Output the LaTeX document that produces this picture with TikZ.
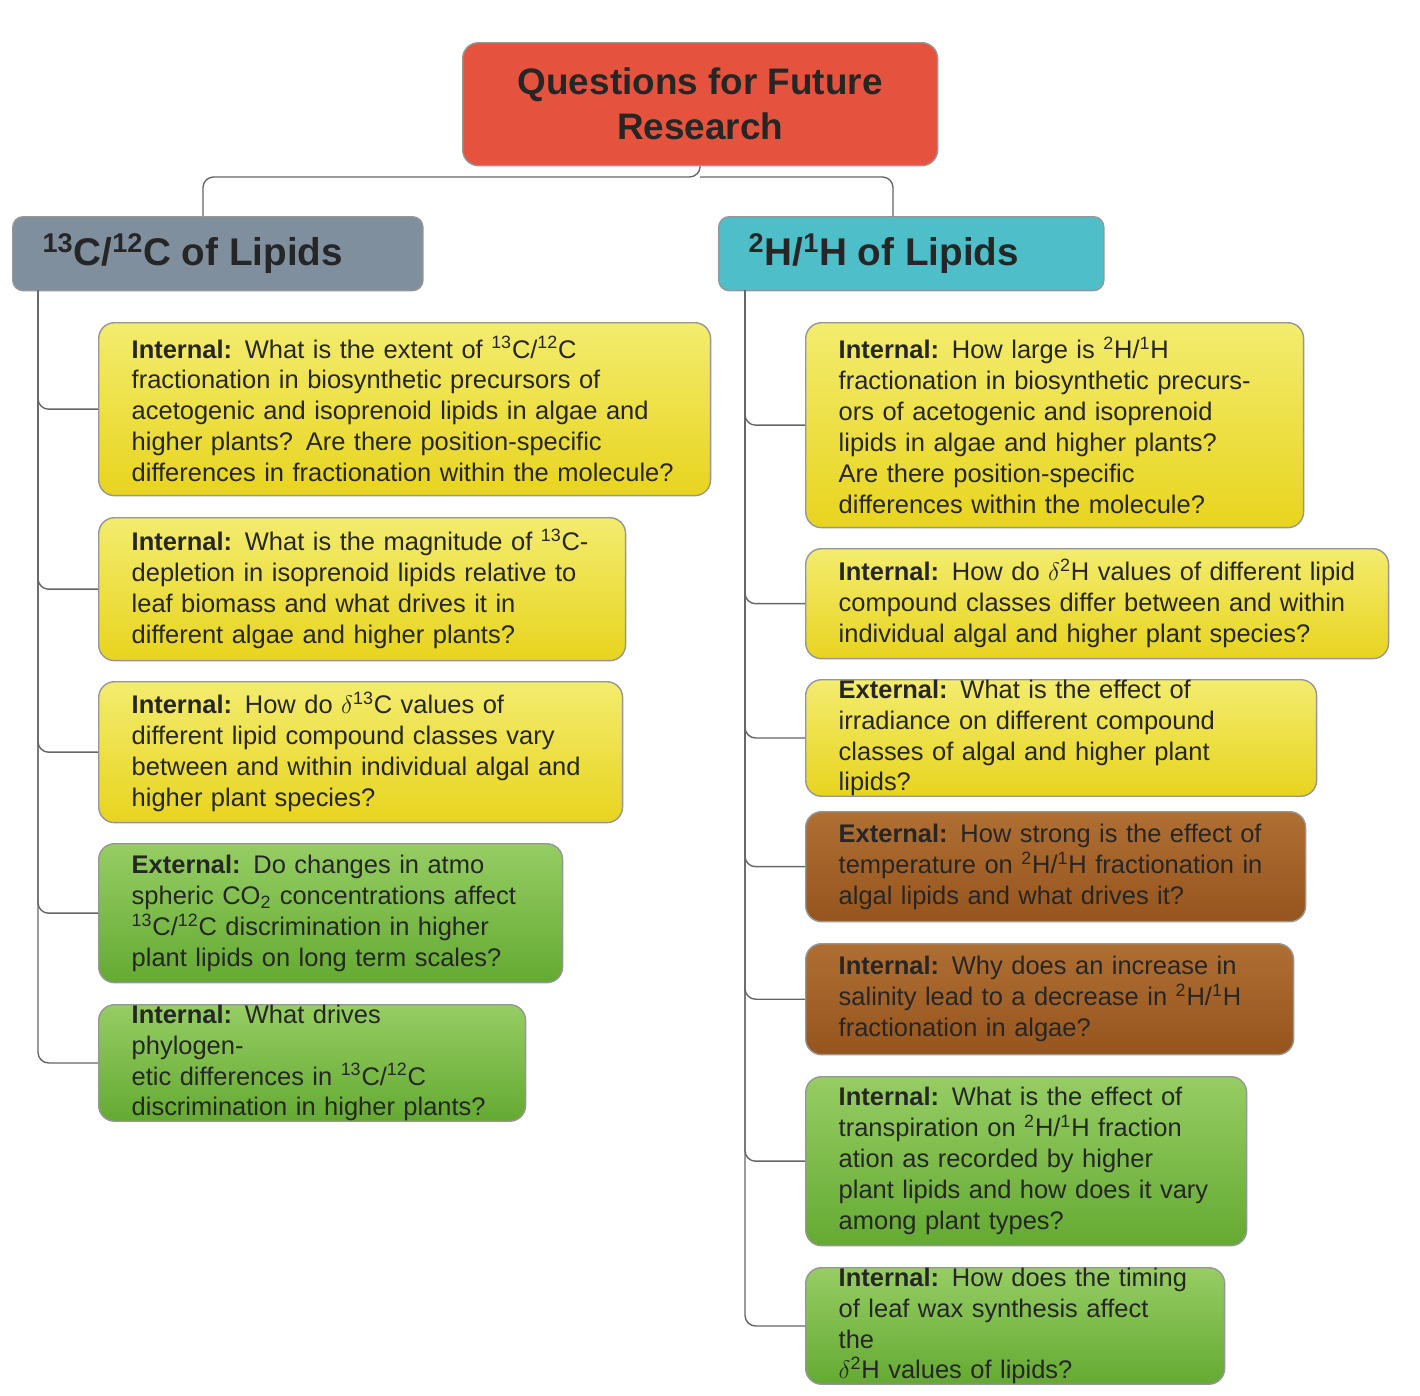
\documentclass[tikz,border=0pt]{standalone}
\usepackage{fontspec}
\setmainfont{Liberation Sans}
\usetikzlibrary{positioning}
\definecolor{TitleRed}{RGB}{229,83,62}
\definecolor{HeadGray}{RGB}{128,143,158}
\definecolor{HeadTeal}{RGB}{78,190,200}
\definecolor{YelTop}{RGB}{243,236,110}
\definecolor{YelBot}{RGB}{232,212,30}
\definecolor{GrnTop}{RGB}{150,205,100}
\definecolor{GrnBot}{RGB}{100,170,50}
\definecolor{BrnTop}{RGB}{175,110,50}
\definecolor{BrnBot}{RGB}{150,85,30}
\definecolor{EdgeGray}{RGB}{150,150,150}
\tikzset{
  qbox/.style={anchor=north west, draw=EdgeGray, thick, rounded corners=9pt,
    align=left, inner xsep=0.66cm, inner ysep=0pt,
    font=\fontsize{14.5}{17.6}\selectfont, text=black!85},
  yellowbox/.style={qbox, top color=YelTop, bottom color=YelBot},
  greenbox/.style={qbox, top color=GrnTop, bottom color=GrnBot},
  brownbox/.style={qbox, top color=BrnTop, bottom color=BrnBot},
  headbox/.style={anchor=north west, draw=EdgeGray, thick, rounded corners=6pt,
    align=left, inner xsep=0.6cm, font=\fontsize{22}{26}\selectfont\bfseries, text=black!85},
  branch/.style={draw=black!60, thick, rounded corners=6pt}
}
\newcommand{\sps}[1]{\textsuperscript{#1}}
\begin{document}
\begin{tikzpicture}[x=0.02cm, y=-0.02cm]
\useasboundingbox (0,0) rectangle (1420,1396);

% title and headers
\node [anchor=north west, draw=EdgeGray, thick, rounded corners=9pt, fill=TitleRed,
  minimum width=9.5cm, minimum height=2.46cm, align=center,
  font=\fontsize{21}{25.5}\selectfont\bfseries, text=black!85] (title) at (462,42)
  {Questions for Future\\Research};
\node [headbox, fill=HeadGray, minimum width=7.64cm, minimum height=1.48cm] (hc) at (12,216)
  {\sps{13}C/\sps{12}C of Lipids\hspace*{1cm}};
\node [headbox, fill=HeadTeal, minimum width=7cm, minimum height=1.48cm] (hh) at (718,216)
  {\sps{2}H/\sps{1}H of Lipids\hspace*{1.1cm}};
\coordinate (split) at (700,177);
\draw [branch] (title.south) -- (split) -| (203,216);
\draw [branch] (split) -| (893,216);

% left column
\node [yellowbox, text width=10.92cm, minimum height=3.46cm] (l1) at (98,322)
  {\textbf{Internal:} What is the extent of \sps{13}C/\sps{12}C\\
   fractionation in biosynthetic precursors of\\
   acetogenic and isoprenoid lipids in algae and\\
   higher plants? Are there position-specific\\
   differences in fractionation within the molecule?};
\node [yellowbox, text width=9.22cm, minimum height=2.86cm] (l2) at (98,517)
  {\textbf{Internal:} What is the magnitude of \sps{13}C-\\
   depletion in isoprenoid lipids relative to\\
   leaf biomass and what drives it in\\
   different algae and higher plants?};
\node [yellowbox, text width=9.16cm, minimum height=2.82cm] (l3) at (98,681)
  {\textbf{Internal:} How do $\delta$\sps{13}C values of\\
   different lipid compound classes vary\\
   between and within individual algal and\\
   higher plant species?};
\node [greenbox, text width=7.96cm, minimum height=2.78cm] (l4) at (98,843)
  {\textbf{External:} Do changes in atmo\\
   spheric CO\textsubscript{2} concentrations affect\\
   \sps{13}C/\sps{12}C discrimination in higher\\
   plant lipids on long term scales?};
\node [greenbox, text width=7.22cm, minimum height=2.22cm] (l5) at (98,1004)
  {\textbf{Internal:} What drives phylogen-\\
   etic differences in \sps{13}C/\sps{12}C\\
   discrimination in higher plants?};

% right column
\node [yellowbox, text width=8.64cm, minimum height=4.1cm] (r1) at (805,322)
  {\textbf{Internal:} How large is \sps{2}H/\sps{1}H\\
   fractionation in biosynthetic precurs-\\
   ors of acetogenic and isoprenoid\\
   lipids in algae and higher plants?\\
   Are there position-specific\\
   differences within the molecule?};
\node [yellowbox, text width=10.34cm, minimum height=2.2cm] (r2) at (805,548)
  {\textbf{Internal:} How do $\delta$\sps{2}H values of different lipid\\
   compound classes differ between and within\\
   individual algal and higher plant species?};
\node [yellowbox, text width=8.9cm, minimum height=2.22cm] (r3) at (805,679)
  {\textbf{External:} What is the effect of\\
   irradiance on different compound\\
   classes of algal and higher plant lipids?};
\node [brownbox, text width=8.68cm, minimum height=2.2cm] (r4) at (805,811)
  {\textbf{External:} How strong is the effect of\\
   temperature on \sps{2}H/\sps{1}H fractionation in\\
   algal lipids and what drives it?};
\node [brownbox, text width=8.44cm, minimum height=2.22cm] (r5) at (805,943)
  {\textbf{Internal:} Why does an increase in\\
   salinity lead to a decrease in \sps{2}H/\sps{1}H\\
   fractionation in algae?};
\node [greenbox, text width=7.5cm, minimum height=3.38cm] (r6) at (805,1076)
  {\textbf{Internal:} What is the effect of\\
   transpiration on \sps{2}H/\sps{1}H fraction\\
   ation as recorded by higher\\
   plant lipids and how does it vary\\
   among plant types?};
\node [greenbox, text width=7.06cm, minimum height=2.18cm] (r7) at (805,1267)
  {\textbf{Internal:} How does the timing\\
   of leaf wax synthesis affect the\\
   $\delta$\sps{2}H values of lipids?};

% trunks
\coordinate (lt) at (38,290);
\coordinate (rt) at (745,290);
\foreach \i in {1,...,5}
  \draw [branch] (lt) |- (l\i.west);
\foreach \i in {1,...,7}
  \draw [branch] (rt) |- (r\i.west);
\end{tikzpicture}
\end{document}
